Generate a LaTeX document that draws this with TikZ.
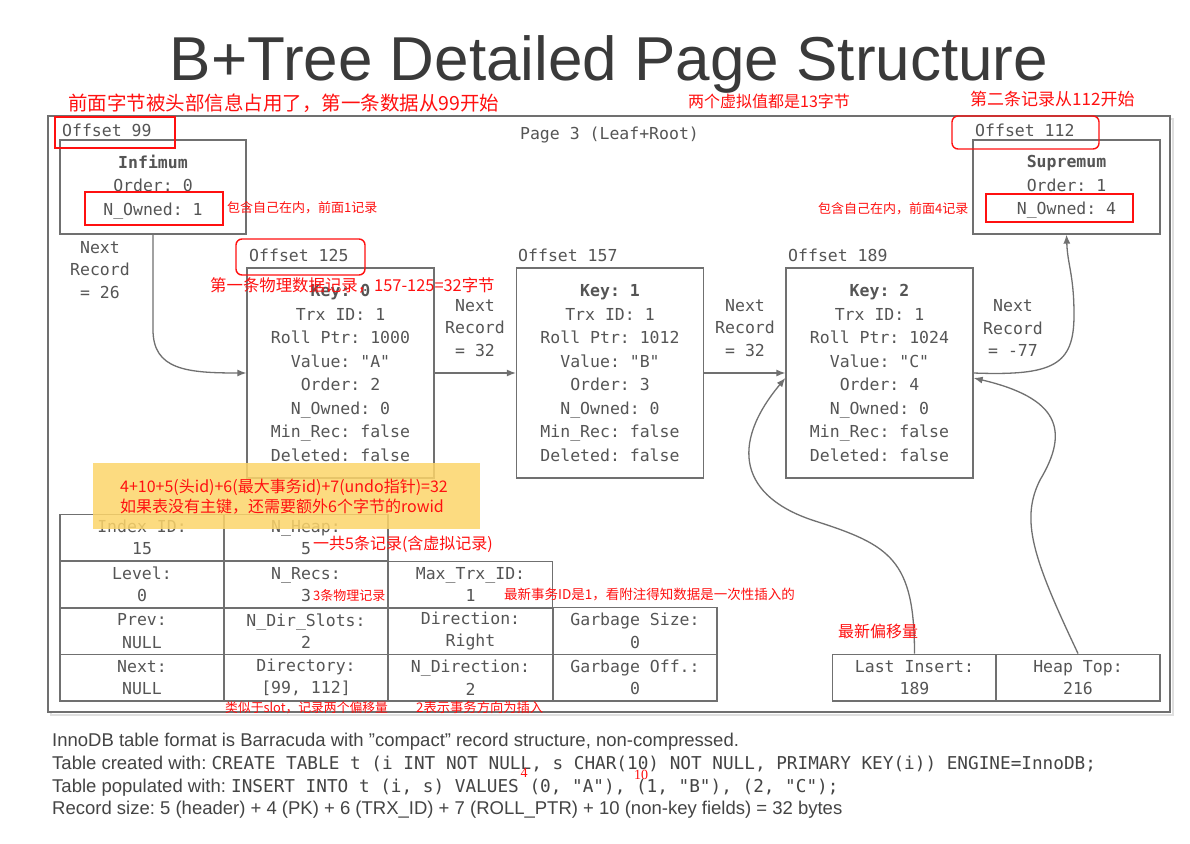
\documentclass[tikz,border=0pt]{standalone}
\usepackage{fontspec}
\setmainfont{Liberation Sans}
\newfontfamily\monof{DejaVu Sans Mono}
\newfontfamily\cjkf{Noto Sans CJK SC}
\newfontfamily\numf{Liberation Serif}
\usetikzlibrary{arrows.meta}
\definecolor{boxgray}{HTML}{707070}
\definecolor{txtgray}{HTML}{555555}
\definecolor{capgray}{HTML}{444444}
\definecolor{titlegray}{HTML}{3A3A3A}
\definecolor{notered}{HTML}{FF1010}
\definecolor{hiyellow}{HTML}{FCD56A}
\frenchspacing

\begin{document}
\begin{tikzpicture}[
  x=1pt, y=-1pt,
  >={Latex[length=9pt,width=7pt]},
  mono/.style={font=\monof\fontsize{16.5}{23.5}\selectfont, text=txtgray},
  rec/.style={mono, draw=boxgray, line width=1.3pt, align=center, inner sep=0pt},
  recbox/.style={rec, minimum width=187, minimum height=210},
  cell/.style={rec, minimum width=164, minimum height=46.7,
    font=\monof\fontsize{16.5}{22.5}\selectfont},
  link/.style={->, draw=boxgray, line width=1.3pt},
  note/.style={font=\cjkf\fontsize{#1}{#1}\selectfont, text=notered,
    anchor=base west, inner sep=0pt},
  redbox/.style={draw=notered, line width=1.4pt},
  captext/.style={font=\fontsize{18.5}{23}\selectfont, text=capgray,
    anchor=base west, inner sep=0pt}
]
\useasboundingbox (0,0) rectangle (1190,843);
\fill[white] (0,0) rectangle (1190,843);

% 标题
\node[font=\fontsize{62}{62}\selectfont, text=titlegray, anchor=base] (title)
  at (609,81) {B+Tree Detailed Page Structure};

% 页框
\draw[line width=2.5pt, gray!25] (51,119) rectangle (1173,715);
\draw[line width=1.4pt, boxgray, fill=white] (48,116) rectangle (1170,712);
\node[mono, anchor=base] (page) at (609.5,139) {Page 3 (Leaf+Root)};

% 虚拟记录
\node[rec, minimum width=186, minimum height=94] (inf) at (153,187)
  {\textbf{Infimum}\\Order: 0\\N\_Owned: 1};
\node[rec, minimum width=187, minimum height=94] (sup) at (1066.5,187)
  {\textbf{Supremum}\\Order: 1\\N\_Owned: 4};
\node[mono, anchor=base west, inner sep=2pt] (off99) at (60,136) {Offset 99};
\node[mono, anchor=base west, inner sep=2pt] (off112) at (973,136) {Offset 112};

% 用户记录
\node[recbox] (k0) at (340.5,373) {\textbf{Key: 0}\\Trx ID: 1\\Roll Ptr: 1000\\Value: "A"\\Order: 2\\N\_Owned: 0\\Min\_Rec: false\\Deleted: false};
\node[recbox] (k1) at (610,373) {\textbf{Key: 1}\\Trx ID: 1\\Roll Ptr: 1012\\Value: "B"\\Order: 3\\N\_Owned: 0\\Min\_Rec: false\\Deleted: false};
\node[recbox] (k2) at (879.5,373) {\textbf{Key: 2}\\Trx ID: 1\\Roll Ptr: 1024\\Value: "C"\\Order: 4\\N\_Owned: 0\\Min\_Rec: false\\Deleted: false};
\node[mono, anchor=base west, inner sep=2pt] (off125) at (247,261) {Offset 125};
\node[mono, anchor=base west, inner sep=2pt] (off157) at (516,261) {Offset 157};
\node[mono, anchor=base west, inner sep=2pt] (off189) at (786,261) {Offset 189};

% Next Record
\node[mono, align=center, font=\monof\fontsize{16.5}{22.5}\selectfont] (nr26) at (100,270) {Next\\Record\\= 26};
\node[mono, align=center, font=\monof\fontsize{16.5}{22.5}\selectfont] (nr32a) at (475,328) {Next\\Record\\= 32};
\node[mono, align=center, font=\monof\fontsize{16.5}{22.5}\selectfont] (nr32b) at (745,328) {Next\\Record\\= 32};
\node[mono, align=center, font=\monof\fontsize{16.5}{22.5}\selectfont] (nr77) at (1013,328) {Next\\Record\\= -77};

% 页头字段
\node[cell] (tidx) at (142,537.5) {Index ID:\\15};
\node[cell] (theap) at (306,537.5) {N\_Heap:\\5};
\node[cell] (tlvl) at (142,584.5) {Level:\\0};
\node[cell] (trecs) at (306,584.5) {N\_Recs:\\3};
\node[cell] (tmax) at (470.5,584.5) {Max\_Trx\_ID:\\1};
\node[cell] (tprev) at (142,631) {Prev:\\NULL};
\node[cell] (tslots) at (306,631) {N\_Dir\_Slots:\\2};
\node[cell] (tdir) at (470.5,631) {Direction:\\Right};
\node[cell] (tgsize) at (635,631) {Garbage Size:\\0};
\node[cell] (tnext) at (142,677.5) {Next:\\NULL};
\node[cell] (tdirs) at (306,677.5) {Directory:\\{[99, 112]}};
\node[cell] (tndir) at (470.5,677.5) {N\_Direction:\\2};
\node[cell] (tgoff) at (635,677.5) {Garbage Off.:\\0};
\node[cell] (li) at (914.5,677.5) {Last Insert:\\189};
\node[cell] (ht) at (1078,677.5) {Heap Top:\\216};

% 链接
\coordinate (bend77) at (1074,315);
\coordinate (bendli) at (815,521);
\coordinate (bendht) at (1040,480);
\draw[link] (inf.south) -- ++(0,95) .. controls +(0,40) and +(-60,0) .. (k0.west);
\draw[link] (k0.east) -- (k1.west);
\draw[link] (k1.east) -- (k2.west);
\draw[link] (k2.east) .. controls +(80,3) and +(0,50) .. (bend77)
  .. controls +(0,-40) and +(1,30) .. (sup.south);
\draw[link] (li.north) .. controls +(0,-94) and +(75,24) .. (bendli)
  .. controls +(-75,-24) and +(-56,67) .. ([yshift=-5pt]k2.west);
\draw[link] (ht.north) .. controls +(-45,-95) and +(-20,40) .. (bendht)
  .. controls +(30,-50) and +(85,20) .. ([yshift=-5pt]k2.east);

% 批注
\fill[hiyellow, opacity=0.85] (93,463) rectangle (480,529);
\draw[redbox] (55,117) rectangle (175,148);
\draw[redbox] (85,192) rectangle (223,225);
\draw[redbox, rounded corners=6] (236,239) rectangle (365,275);
\draw[redbox, rounded corners=6] (952,116) rectangle (1099,149);
\draw[redbox] (986,194) rectangle (1133,222);

\node[note=19.5] (n99) at (68,110) {前面字节被头部信息占用了，第一条数据从99开始};
\node[note=16] (n13) at (688,107) {两个虚拟值都是13字节};
\node[note=17] (n112) at (970,105.5) {第二条记录从112开始};
\node[note=13] (nown1) at (227,212) {包含自己在内，前面1记录};
\node[note=13] (nown4) at (818,213) {包含自己在内，前面4记录};
\node[note=16.4] (nfirst) at (210,291) {第一条物理数据记录，157-125=32字节};
\node[note=16] (nsize) at (120,492) {4+10+5(头id)+6(最大事务id)+7(undo指针)=32};
\node[note=16] (nrowid) at (120,512) {如果表没有主键，还需要额外6个字节的rowid};
\node[note=16] (nheap) at (313,549) {一共5条记录(含虚拟记录)};
\node[note=13] (nrecs) at (313,600) {3条物理记录};
\node[note=13.5] (ntrx) at (504,599) {最新事务ID是1，看附注得知数据是一次性插入的};
\node[note=12.8] (nslot) at (225,712) {类似于slot，记录两个偏移量};
\node[note=13.3] (ndirn) at (416,712) {2表示事务方向为插入};
\node[note=16] (nlast) at (838,637) {最新偏移量};

% 附注
\node[captext] (cap1) at (52,746) {InnoDB table format is Barracuda with "compact" record structure, non-compressed.};
\node[captext] (cap2) at (52,769) {Table created with: {\monof\fontsize{17.7}{23}\selectfont CREATE TABLE t (i INT NOT NULL, s CHAR(10) NOT NULL, PRIMARY KEY(i)) ENGINE=InnoDB;}};
\node[captext] (cap3) at (52,792) {Table populated with: {\monof\fontsize{17.7}{23}\selectfont INSERT INTO t (i, s) VALUES (0, "A"), (1, "B"), (2, "C");}};
\node[captext] (cap4) at (52,814) {Record size: 5 (header) + 4 (PK) + 6 (TRX\_ID) + 7 (ROLL\_PTR) + 10 (non-key fields) = 32 bytes};
\node[font=\numf\fontsize{14}{14}\selectfont, text=notered, inner sep=0pt] (d4) at (524,773) {4};
\node[font=\numf\fontsize{14}{14}\selectfont, text=notered, inner sep=0pt] (d10) at (641,775) {10};
\end{tikzpicture}
\end{document}
